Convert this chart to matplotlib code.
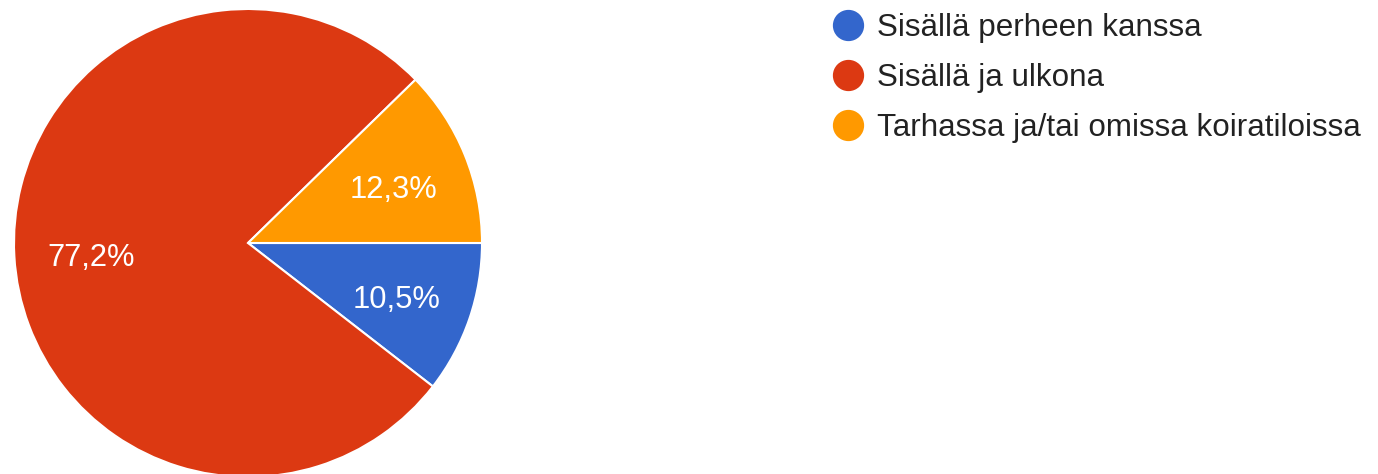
import matplotlib
matplotlib.use("Agg")
import matplotlib.pyplot as plt  # noqa: E402
from matplotlib.lines import Line2D  # noqa: E402

labels = ["Sisällä perheen kanssa", "Sisällä ja ulkona",
          "Tarhassa ja/tai omissa koiratiloissa"]
shares = [10.5, 77.2, 12.3]
colors = ["#3366cc", "#dc3912", "#ff9900"]

plt.rcParams["font.family"] = ["Liberation Sans", "DejaVu Sans"]

W, H = 1378, 474
fig = plt.figure(figsize=(W / 100, H / 100), dpi=100)

# pie axes placed in pixel units: centre (248, 243), radius 234
cx, cy, r = 248, 243, 234
ax = fig.add_axes([(cx - r) / W, (H - cy - r) / H, 2 * r / W, 2 * r / H])
wedges, texts, pcts = ax.pie(
    shares, colors=colors, startangle=0, counterclock=False,
    autopct=lambda p: f"{p:.1f}%".replace(".", ","), pctdistance=0.67,
    wedgeprops={"edgecolor": "white", "linewidth": 1.5},
    textprops={"color": "white", "fontsize": 22.2}, radius=1)
for t in pcts:
    x, y = t.get_position()
    t.set_position((x, y - 6.5 / r))
ax.set_xlim(-1, 1)
ax.set_ylim(-1, 1)
ax.set_aspect("auto")
ax.axis("off")

handles = [Line2D([], [], marker="o", linestyle="none", markersize=21.5,
                  markerfacecolor=c, markeredgecolor=c) for c in colors]
fig.legend(handles, labels, loc="upper left",
           bbox_to_anchor=(833 / W, 1 - 13 / H), frameon=False,
           fontsize=22.6, borderpad=0, borderaxespad=0, handlelength=0.96,
           handletextpad=0.45, labelspacing=0.64, labelcolor="#222222")

fig.savefig("out.png", dpi=100)
